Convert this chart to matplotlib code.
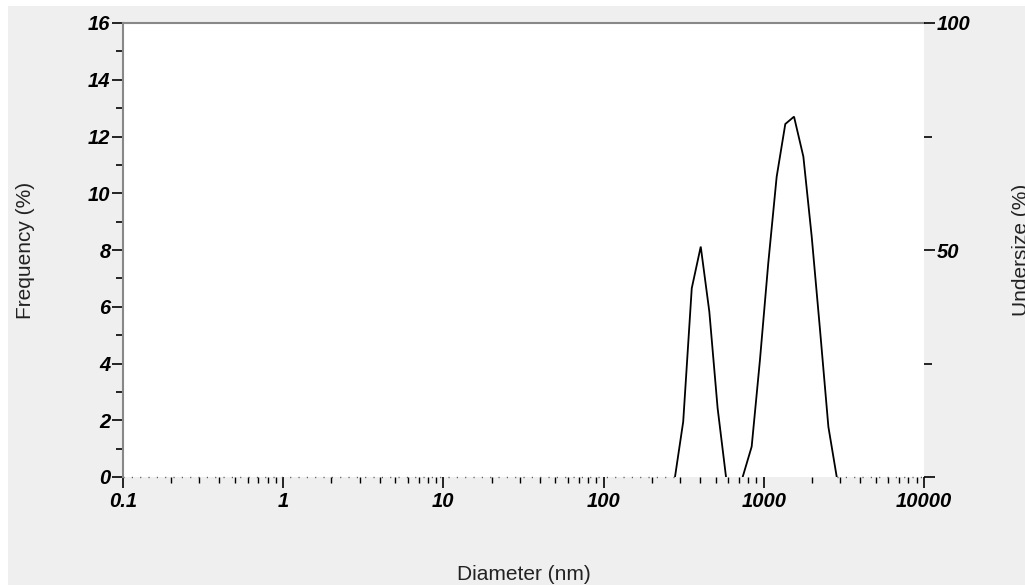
import matplotlib
matplotlib.use("Agg")
import matplotlib.pyplot as plt
from matplotlib.patches import Rectangle
from matplotlib.ticker import FixedLocator, LogLocator, NullFormatter

# ---- data ----
peak1_d = [279, 314, 355, 404, 457, 515, 581]
peak1_f = [0.0, 1.95, 6.65, 8.12, 5.83, 2.42, 0.0]
peak2_d = [738, 840, 946, 1066, 1203, 1362, 1544, 1766, 1991, 2244, 2530, 2853]
peak2_f = [0.0, 1.07, 4.12, 7.53, 10.58, 12.44, 12.70, 11.29, 8.47, 5.18, 1.77, 0.0]
x_ticks = [0.1, 1, 10, 100, 1000, 10000]
x_labels = ["0.1", "1", "10", "100", "1000", "10000"]
y_ticks = [0, 2, 4, 6, 8, 10, 12, 14, 16]
y2_ticks = [0, 50, 100]
y2_labels = ["", "50", "100"]
y2_minor = [25, 75]
x_range = [0.1, 10000]
y_range = [0, 16]
y2_range = [0, 100]

W, H = 1025, 585
fig = plt.figure(figsize=(W / 100, H / 100), dpi=100, facecolor="white")
fig.patches.append(Rectangle((8 / W, 0), 1, 1 - 6 / H, transform=fig.transFigure,
                             facecolor="#efefef", edgecolor="none", zorder=-10))

ax = fig.add_axes([123 / W, 1 - 477 / H, (924 - 123) / W, (477 - 23) / H])
ax.set_facecolor("white")
ax.set_xscale("log")
ax.set_xlim(*x_range)
ax.set_ylim(*y_range)

ax.plot(peak1_d, peak1_f, color="black", lw=1.3, solid_joinstyle="miter")
ax.plot(peak2_d, peak2_f, color="black", lw=1.3, solid_joinstyle="miter")
# dotted baseline where frequency is zero
ax.plot([x_range[0], peak1_d[0]], [0, 0], color="#555555", lw=1.0,
        linestyle=(0, (0.8, 5.2)), clip_on=False)
ax.plot([peak2_d[-1], x_range[1]], [0, 0], color="#555555", lw=1.0,
        linestyle=(0, (0.8, 5.2)), clip_on=False)

tick_font = dict(family="Liberation Sans", weight="bold", style="italic", size=14.5)

ax.xaxis.set_major_locator(FixedLocator(x_ticks))
ax.set_xticklabels(x_labels, **tick_font)
ax.xaxis.set_minor_locator(LogLocator(base=10, subs=range(2, 10)))
ax.xaxis.set_minor_formatter(NullFormatter())
ax.tick_params(axis="x", which="major", direction="out", length=8, width=1.2,
               color="black", pad=3)
ax.tick_params(axis="x", which="minor", direction="out", length=4.5, width=1.0,
               color="black")

ax.set_yticks(y_ticks)
ax.set_yticklabels([str(v) for v in y_ticks], **tick_font)
ax.set_yticks([v + 1 for v in y_ticks[:-1]], minor=True)
ax.tick_params(axis="y", which="major", direction="out", length=8, width=1.2,
               color="black", pad=1)
ax.tick_params(axis="y", which="minor", direction="out", length=5, width=1.2,
               color="black")

for s in ["right", "bottom"]:
    ax.spines[s].set_visible(False)
ax.spines["left"].set_color("#888888")
ax.spines["left"].set_linewidth(1.5)
ax.spines["top"].set_color("#888888")
ax.spines["top"].set_linewidth(1.5)

ax2 = ax.twinx()
ax2.set_ylim(*y2_range)
ax2.set_yticks(y2_ticks)
ax2.set_yticklabels(y2_labels, **tick_font)
ax2.set_yticks(y2_minor, minor=True)
ax2.tick_params(axis="y", which="major", direction="out", length=8, width=1.2,
                color="black", pad=1)
ax2.tick_params(axis="y", which="minor", direction="out", length=6, width=1.2,
                color="black")
for s in ["left", "right", "bottom", "top"]:
    ax2.spines[s].set_visible(False)

label_font = dict(family="Liberation Sans", size=15, color="#222222")
fig.text(523.5 / W, 1 - 575 / H, "Diameter (nm)", ha="center", va="center", **label_font)
fig.text(16 / W, 1 - 250 / H, "Frequency (%)", ha="left", va="center",
         rotation=90, **label_font)
fig.text(1012 / W, 1 - 250 / H, "Undersize (%)", ha="left", va="center",
         rotation=90, **label_font)

fig.savefig("out.png", dpi=100, facecolor=fig.get_facecolor())
